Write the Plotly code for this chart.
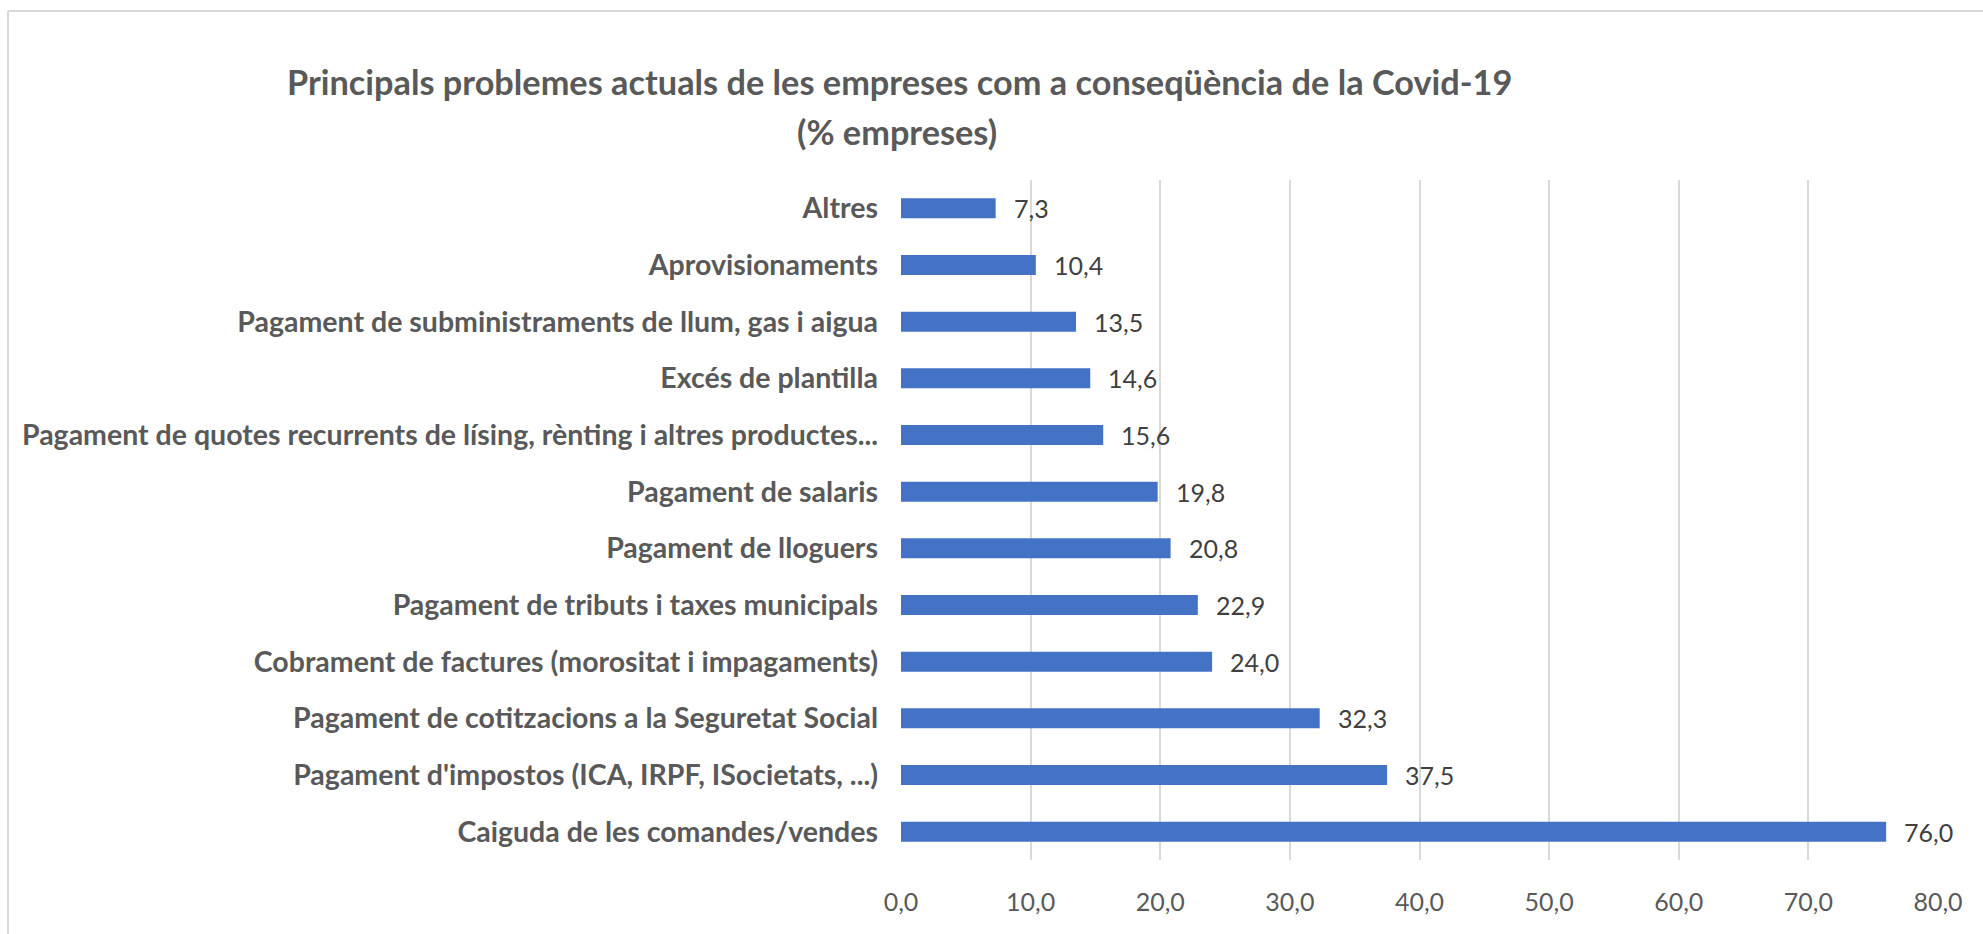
import plotly.graph_objects as go

categories = [
    "Caiguda de les comandes/vendes",
    "Pagament d'impostos (ICA, IRPF, ISocietats, ...)",
    "Pagament de cotitzacions a la Seguretat Social",
    "Cobrament de factures (morositat i impagaments)",
    "Pagament de tributs i taxes municipals",
    "Pagament de lloguers",
    "Pagament de salaris",
    "Pagament de quotes recurrents de lísing, rènting i altres productes...",
    "Excés de plantilla",
    "Pagament de subministraments de llum, gas i aigua",
    "Aprovisionaments",
    "Altres",
]
values = [76.0, 37.5, 32.3, 24.0, 22.9, 20.8, 19.8, 15.6, 14.6, 13.5, 10.4, 7.3]
x_ticks = [0, 10, 20, 30, 40, 50, 60, 70, 80]
x_tick_labels = ["0,0", "10,0", "20,0", "30,0", "40,0", "50,0", "60,0", "70,0", "80,0"]
title_line1 = "Principals problemes actuals de les empreses com a conseqüència de la Covid-19"
title_line2 = "(% empreses)"

W, H = 1983, 934
L, R, T, B = 901, W - 1938, 180, H - 860
pw, ph = W - L - R, H - T - B

def px_x(p):
    return (p - L) / pw

def px_y(p):
    return (H - B - p) / ph

FONT = "Lato, 'Open Sans', sans-serif"

fig = go.Figure()
fig.add_trace(go.Bar(
    x=values, y=categories, orientation="h",
    marker=dict(color="#4472C4", line=dict(width=0)),
    hoverinfo="x+y",
))

annotations = []
for c, v in zip(categories, values):
    annotations.append(dict(
        x=v, y=c, xref="x", yref="y", text=f"{v:.1f}".replace(".", ","),
        showarrow=False, xanchor="left", yanchor="middle", xshift=16,
        font=dict(family=FONT, size=25, color="#404040"),
    ))
annotations.append(dict(
    x=px_x(899), y=px_y(81), xref="paper", yref="paper", text=f"<b>{title_line1}</b>",
    showarrow=False, xanchor="center", yanchor="middle",
    font=dict(family=FONT, size=34.3, color="#595959"),
))
annotations.append(dict(
    x=px_x(897), y=px_y(131), xref="paper", yref="paper", text=f"<b>{title_line2}</b>",
    showarrow=False, xanchor="center", yanchor="middle",
    font=dict(family=FONT, size=34.3, color="#595959"),
))

shapes = [
    dict(type="line", xref="paper", yref="paper", x0=px_x(8), x1=px_x(W + 5),
         y0=px_y(11), y1=px_y(11), line=dict(color="#D9D9D9", width=2)),
    dict(type="line", xref="paper", yref="paper", x0=px_x(8), x1=px_x(8),
         y0=px_y(11), y1=px_y(H + 5), line=dict(color="#D9D9D9", width=2)),
]

fig.update_layout(
    width=W, height=H,
    margin=dict(l=L, r=R, t=T, b=B, pad=0),
    paper_bgcolor="white", plot_bgcolor="white",
    showlegend=False,
    bargap=0.647,
    annotations=annotations,
    shapes=shapes,
    font=dict(family=FONT),
    xaxis=dict(
        range=[0, 80], tickvals=x_ticks, ticktext=x_tick_labels,
        showgrid=True, gridcolor="#D9D9D9", gridwidth=2,
        zeroline=False, showline=False, ticks="",
        tickfont=dict(family=FONT, size=25, color="#595959"),
        ticklabelstandoff=25, fixedrange=True,
    ),
    yaxis=dict(
        categoryorder="array", categoryarray=categories,
        showgrid=False, zeroline=False, showline=False, ticks="",
        tickfont=dict(family=FONT, size=28.5, color="#595959", weight="bold"),
        ticklabelstandoff=22, fixedrange=True,
    ),
)

fig.write_html(
    "out.html",
    config={"displayModeBar": False},
    post_script="document.body.style.margin='0';document.body.style.overflow='hidden';",
)
